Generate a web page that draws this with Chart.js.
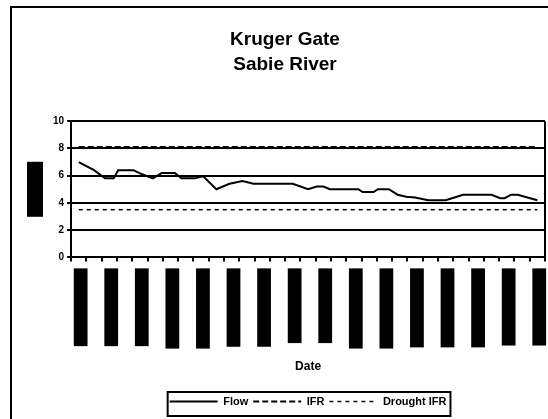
<!DOCTYPE html>
<html>
<head>
<meta charset="utf-8">
<script src="https://cdn.jsdelivr.net/npm/chart.js@4"></script>
<style>
  html, body { margin: 0; padding: 0; background: #fff; overflow: hidden; }
  #frame { position: absolute; left: 10px; top: 6px; width: 700px; height: 600px; border: 2px solid #000; }
  #grafico { position: absolute; left: 0; top: 0; }
</style>
</head>
<body>
<div id="frame"></div>
<canvas id="grafico" width="548" height="419"></canvas>
<script>
// weekly date categories (x axis)
const dateLabels = [
  '01 Apr 2003', '08 Apr 2003', '15 Apr 2003', '22 Apr 2003', '29 Apr 2003',
  '06 May 2003', '13 May 2003', '20 May 2003', '27 May 2003', '03 Jun 2003',
  '10 Jun 2003', '17 Jun 2003', '24 Jun 2003', '01 Jul 2003', '08 Jul 2003',
  '15 Jul 2003', '22 Jul 2003', '29 Jul 2003', '05 Aug 2003', '12 Aug 2003',
  '19 Aug 2003', '26 Aug 2003', '02 Sep 2003', '09 Sep 2003', '16 Sep 2003',
  '23 Sep 2003', '30 Sep 2003', '07 Oct 2003', '14 Oct 2003', '21 Oct 2003',
  '28 Oct 2003'
];

// flow readings: day offset from 01 Apr 2003 and flow value
const flowDays = [0, 7, 12, 16, 18, 25, 29, 34, 38, 44, 47, 53, 57, 63, 66, 69, 75, 80, 98, 105,
  109, 112, 115, 128, 130, 135, 137, 142, 146, 150, 154, 160, 168, 176, 189, 193, 195, 198, 201, 210];
const flowValues = [7.0, 6.4, 5.8, 5.8, 6.4, 6.4, 6.1, 5.8, 6.2, 6.2, 5.8, 5.8, 5.95, 5.0, 5.2, 5.4, 5.6, 5.4, 5.4, 5.0,
  5.2, 5.2, 5.0, 5.0, 4.8, 4.8, 5.0, 5.0, 4.6, 4.45, 4.4, 4.2, 4.2, 4.6, 4.6, 4.35, 4.35, 4.6, 4.6, 4.2];

// requirement lines
const ifrDays = [0, 210];
const ifrValues = [8.1, 8.1];
const droughtDays = [0, 210];
const droughtValues = [3.5, 3.5];

const yTicks = [0, 2, 4, 6, 8, 10];

const toPoints = (xs, ys) => xs.map((x, i) => ({ x: x, y: ys[i] }));

// plot frame, legend box and the blacked out y title
const extras = {
  id: 'extras',
  afterDraw(chart) {
    const c = chart.ctx;
    const a = chart.chartArea;
    c.save();
    c.strokeStyle = '#000';
    c.lineWidth = 2;
    c.beginPath();
    c.moveTo(a.right, a.top);
    c.lineTo(a.right, a.bottom);
    c.stroke();

    // y title block
    const ys = chart.scales.y;
    const cx = ys.left + 4 + 6;
    const cy = (a.top + a.bottom) / 2;
    c.fillStyle = '#000';
    c.fillRect(cx - 8, cy - 27.5, 16, 55);

    // legend frame
    const hb = chart.legend.legendHitBoxes;
    if (hb && hb.length) {
      const first = hb[0], last = hb[hb.length - 1];
      const left = first.left - 2;
      const right = last.left + last.width + 4;
      c.strokeRect(left, chart.legend.top + 1, right - left, chart.legend.height - 2);
    }
    c.restore();
  }
};

const ctx = document.getElementById('grafico');

new Chart(ctx, {
  type: 'line',
  data: {
    labels: dateLabels,
    datasets: [
      {
        label: 'Flow',
        xAxisID: 'x2',
        data: toPoints(flowDays, flowValues),
        borderColor: '#000',
        borderWidth: 2,
        pointRadius: 0,
        tension: 0
      },
      {
        label: 'IFR',
        xAxisID: 'x2',
        data: toPoints(ifrDays, ifrValues),
        borderColor: '#000',
        borderWidth: 2,
        borderDash: [6, 3],
        pointRadius: 0
      },
      {
        label: 'Drought IFR',
        xAxisID: 'x2',
        data: toPoints(droughtDays, droughtValues),
        borderColor: '#000',
        borderWidth: 1.5,
        borderDash: [4, 4],
        pointRadius: 0
      }
    ]
  },
  options: {
    responsive: false,
    animation: false,
    devicePixelRatio: 1,
    layout: { padding: { left: 25, right: 3, top: 0, bottom: 2 } },
    scales: {
      x: {
        type: 'category',
        offset: true,
        afterFit: (s) => { s.paddingLeft = 0; s.paddingRight = 0; },
        border: { display: true, color: '#000', width: 2 },
        grid: { offset: true, drawOnChartArea: false, color: '#000', lineWidth: 2, tickLength: 4 },
        ticks: {
          autoSkip: false,
          minRotation: 90,
          maxRotation: 90,
          padding: 15,
          labelOffset: -5,
          color: '#000',
          font: { family: 'Liberation Sans, Arial, sans-serif', size: 11, weight: 'bold', lineHeight: 1.25 },
          showLabelBackdrop: true,
          backdropPadding: { top: 0, bottom: 0, left: 8, right: 8 },
          backdropColor: (c) => (c.index % 2 === 0 ? '#000' : 'rgba(0,0,0,0)'),
          callback: function (val, idx) {
            return idx % 2 === 0 ? this.getLabelForValue(val) : '';
          }
        },
        title: {
          display: true,
          text: 'Date',
          color: '#000',
          font: { family: 'Liberation Sans, Arial, sans-serif', size: 12, weight: 'bold', lineHeight: 1.2 },
          padding: { top: 4, bottom: 17 }
        }
      },
      x2: {
        type: 'linear',
        display: false,
        min: -3.5,
        max: 213.5
      },
      y: {
        min: 0,
        max: 10,
        afterBuildTicks: (s) => { s.ticks = yTicks.map(v => ({ value: v })); },
        border: { display: true, color: '#000', width: 2 },
        grid: { color: '#000', lineWidth: 2, tickLength: 4 },
        ticks: {
          padding: 3,
          color: '#000',
          font: { family: 'Liberation Sans, Arial, sans-serif', size: 10, weight: 'bold' }
        },
        title: {
          display: true,
          text: 'Flow (m³/s)',
          color: '#000',
          font: { family: 'Liberation Sans, Arial, sans-serif', size: 10, weight: 'bold', lineHeight: 1.2 },
          padding: { top: 4, bottom: 9 }
        }
      }
    },
    plugins: {
      title: {
        display: true,
        text: ['Kruger Gate', 'Sabie River'],
        color: '#000',
        font: { family: 'Liberation Sans, Arial, sans-serif', size: 19, weight: 'bold', lineHeight: 1.32 },
        padding: { top: 27, bottom: 44 }
      },
      legend: {
        position: 'bottom',
        fullSize: false,
        labels: {
          usePointStyle: true,
          pointStyle: 'line',
          pointStyleWidth: 48,
          padding: 5,
          color: '#000',
          font: { family: 'Liberation Sans, Arial, sans-serif', size: 11, weight: 'bold' },
          // legend samples take their dash and width from the dataset line
          generateLabels: (chart) => {
            const items = Chart.defaults.plugins.legend.labels.generateLabels(chart);
            items.forEach((it) => {
              const ds = chart.data.datasets[it.datasetIndex];
              it.lineDash = ds.borderDash || [];
              it.lineWidth = ds.borderWidth;
              it.strokeStyle = ds.borderColor;
            });
            return items;
          }
        }
      },
      tooltip: { enabled: false }
    }
  },
  plugins: [extras]
});
</script>
</body>
</html>
